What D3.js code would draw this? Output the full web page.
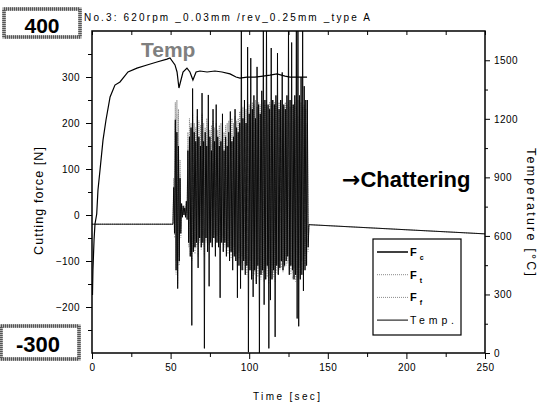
<!DOCTYPE html>
<html>
<head>
<meta charset="utf-8">
<script src="https://cdn.jsdelivr.net/npm/d3@7"></script>
<style>
  body { margin: 0; background: #fff; }
  svg { display: block; font-family: "Liberation Sans", Arial, sans-serif; }
</style>
</head>
<body>
<div class="svg-target"></div>
<script>
const w = 540;
const h = 403;
const plot = {left: 92, right: 485, top: 31, bottom: 353};

// axis ticks
const timeTicks = [0, 50, 100, 150, 200, 250];
const timeMinor = [25, 75, 125, 175, 225];
const forceTicks = [-200, -100, 0, 100, 200, 300];
const forceMinor = [-250, -150, -50, 50, 150, 250, 350];
const tempTicks = [0, 300, 600, 900, 1200, 1500];
const tempMinor = [150, 450, 750, 1050, 1350];

// force offset outside the chatter record
const baseTime = [0, 51.5, 138, 250];
const baseForce = [-20, -20, -21, -41];

// chatter record: one peak and one trough per second, from t = 52 s
const chatterStart = 52;
const fcHi = [60, 207, 180, 150, 80, 25, 20, 15, 30, 140,
    170, 190, 275, 180, 160, 230, 170, 150, 265, 160,
    180, 150, 261, 170, 140, 230, 160, 240, 170, 150,
    160, 220, 140, 170, 150, 180, 225, 160, 170, 230,
    190, 180, 200, 420, 210, 250, 200, 365, 220, 341,
    230, 260, 210, 322, 240, 220, 270, 420, 250, 420,
    240, 230, 363, 250, 240, 260, 352, 230, 250, 310,
    240, 230, 260, 420, 250, 375, 240, 260, 420, 420,
    260, 300, 420, 280, 250, 250];
const fcLo = [-40, -120, -160, -100, -40, -5, 0, -5, -10, -60,
    -90, -240, -80, -70, -60, -115, -50, -70, -60, -290,
    -50, -80, -155, -60, -70, -50, -90, -60, -70, -180,
    -60, -80, -60, -90, -70, -100, -80, -120, -90, -100,
    -180, -110, -160, -120, -100, -130, -110, -298, -120, -140,
    -178, -120, -150, -110, -300, -130, -120, -195, -140, -110,
    -290, -185, -140, -120, -265, -110, -130, -115, -100, -120,
    -110, -100, -90, -130, -110, -120, -140, -130, -225, -242,
    -140, -130, -165, -120, -110, -70];
const ftHi = [80, 245, 250, 230, 120, 20, 15, 20, 25, 180,
    210, 200, 220, 200, 190, 215, 205, 195, 220, 200,
    190, 210, 200, 185, 195, 205, 190, 200, 185, 195,
    200, 190, 180, 195, 200, 205, 195, 210, 200, 215,
    205, 210, 225, 230, 235, 240, 230, 245, 240, 235,
    245, 240, 250, 235, 245, 240, 250, 245, 240, 250,
    235, 245, 240, 250, 245, 240, 235, 245, 240, 250,
    235, 245, 240, 245, 235, 250, 240, 245, 235, 250,
    240, 245, 235, 240, 230, 200];
const ftLo = [-30, -100, -110, -90, -30, 5, 5, 0, 5, -50,
    -70, -80, -60, -70, -55, -65, -50, -60, -45, -70,
    -50, -55, -65, -45, -50, -40, -55, -45, -50, -60,
    -45, -50, -55, -60, -70, -65, -80, -75, -70, -85,
    -90, -80, -95, -90, -100, -95, -110, -120, -100, -115,
    -120, -110, -125, -115, -130, -120, -110, -125, -120, -115,
    -130, -120, -110, -115, -125, -105, -110, -100, -95, -105,
    -95, -90, -85, -100, -110, -120, -115, -125, -120, -115,
    -110, -100, -95, -90, -85, -60];
const ffHi = [50, 200, 220, 190, 90, 15, 10, 15, 20, 150,
    170, 160, 180, 170, 155, 175, 165, 160, 180, 165,
    155, 170, 160, 150, 160, 170, 155, 165, 150, 160,
    165, 155, 150, 160, 165, 170, 160, 175, 165, 180,
    170, 175, 190, 195, 200, 205, 195, 210, 205, 200,
    210, 205, 215, 200, 210, 205, 215, 210, 205, 215,
    200, 210, 205, 215, 210, 205, 200, 210, 205, 215,
    200, 210, 205, 210, 200, 215, 205, 210, 200, 215,
    205, 210, 200, 205, 195, 170];
const ffLo = [-50, -130, -150, -110, -50, -5, 0, -5, 0, -70,
    -90, -100, -75, -85, -70, -90, -60, -75, -65, -90,
    -60, -70, -80, -55, -65, -50, -70, -60, -65, -75,
    -55, -65, -70, -80, -85, -80, -95, -90, -85, -100,
    -110, -95, -115, -105, -120, -110, -130, -140, -120, -135,
    -140, -130, -145, -135, -150, -140, -130, -145, -140, -135,
    -150, -140, -130, -135, -145, -125, -130, -120, -115, -125,
    -115, -110, -105, -120, -130, -140, -135, -145, -140, -135,
    -130, -120, -115, -110, -105, -80];

// temperature
const tempTime = [0.3, 0.6, 1.3, 1.9, 3.0, 3.8, 5.1, 7.0, 8.9, 11.5,
    14.6, 17.8, 22.9, 28.6, 35.0, 41.3, 47.7, 49.6, 52.8, 54.1,
    55.3, 56.6, 57.9, 60.4, 62.3, 64.2, 66.2, 68.7, 73.2, 78.2,
    82.7, 87.8, 91.6, 94.1, 98.6, 103.7, 108.8, 113.2, 117.7, 122.8,
    126.0, 131.0, 136.8];
const tempValue = [297, 425, 579, 661, 712, 835, 938, 1091, 1194, 1312,
    1373, 1389, 1440, 1460, 1476, 1491, 1506, 1512, 1476, 1440,
    1358, 1399, 1440, 1460, 1440, 1399, 1440, 1445, 1440, 1445,
    1440, 1430, 1414, 1409, 1414, 1414, 1419, 1424, 1430, 1419,
    1414, 1414, 1414];

const legendItems = ['c', 't', 'f', 'Temp.'];

drawGraph = () => {
    const svg = d3.select('.svg-target')
        .append('svg')
        .attr('width', w)
        .attr('height', h);

    const x = d3.scaleLinear().domain([0, 250]).range([plot.left, plot.right]);
    const yF = d3.scaleLinear().domain([-300, 400]).range([plot.bottom, plot.top]);
    const yT = d3.scaleLinear().domain([0, 1650]).range([plot.bottom, plot.top]);

    svg.append('clipPath').attr('id', 'clip')
        .append('rect')
        .attr('x', plot.left).attr('y', plot.top)
        .attr('width', plot.right - plot.left)
        .attr('height', plot.bottom - plot.top);

    // force traces
    const chatter = (hi, lo) => {
        const pts = [[baseTime[0], baseForce[0]], [baseTime[1], baseForce[1]]];
        hi.forEach((v, i) => {
            pts.push([chatterStart + i, v]);
            pts.push([chatterStart + i + 0.5, lo[i]]);
        });
        pts.push([baseTime[2], baseForce[2]], [baseTime[3], baseForce[3]]);
        return pts;
    };
    const forceLine = d3.line().x(d => x(d[0])).y(d => yF(d[1]));
    const traces = svg.append('g').attr('clip-path', 'url(#clip)');

    // grey F_t and F_f under the black F_c
    traces.append('path')
        .attr('d', forceLine(chatter(ftHi, ftLo)))
        .attr('fill', 'none').attr('stroke', '#8a8a8a').attr('stroke-width', 1)
        .attr('stroke-dasharray', '1,1');
    traces.append('path')
        .attr('d', forceLine(chatter(ffHi, ffLo)))
        .attr('fill', 'none').attr('stroke', '#a5a5a5').attr('stroke-width', 1)
        .attr('stroke-dasharray', '1,1.5');
    traces.append('path')
        .attr('d', forceLine(chatter(fcHi, fcLo)))
        .attr('fill', 'none').attr('stroke', '#000').attr('stroke-width', 0.9);

    // temperature
    const tempLine = d3.line().x((d, i) => x(tempTime[i])).y(d => yT(d));
    traces.append('path')
        .attr('d', tempLine(tempValue))
        .attr('fill', 'none').attr('stroke', '#000').attr('stroke-width', 1.2);

    // axes
    const styleAxis = g => {
        g.select('.domain').remove();
        g.selectAll('line').attr('stroke', '#000');
        g.selectAll('text')
            .attr('font-family', '"Liberation Sans", Arial, sans-serif')
            .attr('font-size', 10)
            .attr('letter-spacing', 0.4)
            .attr('fill', '#000');
    };
    const fmt = d3.format('d');

    svg.append('g')
        .attr('transform', `translate(0, ${plot.bottom})`)
        .call(d3.axisBottom(x).tickValues(timeTicks).tickFormat(fmt).tickSize(6).tickPadding(5).tickSizeOuter(0))
        .call(styleAxis);
    svg.append('g')
        .attr('transform', `translate(0, ${plot.bottom})`)
        .call(d3.axisBottom(x).tickValues(timeMinor).tickSize(4).tickFormat('').tickSizeOuter(0))
        .call(styleAxis);
    svg.append('g')
        .attr('transform', `translate(0, ${plot.top})`)
        .call(d3.axisBottom(x).tickValues(timeTicks.concat(timeMinor)).tickSize(4).tickFormat('').tickSizeOuter(0))
        .call(styleAxis);

    svg.append('g')
        .attr('transform', `translate(${plot.left}, 0)`)
        .call(d3.axisLeft(yF).tickValues(forceTicks).tickFormat(fmt).tickSize(6).tickPadding(6).tickSizeOuter(0))
        .call(styleAxis);
    svg.append('g')
        .attr('transform', `translate(${plot.left}, 0)`)
        .call(d3.axisLeft(yF).tickValues(forceMinor).tickSize(4).tickFormat('').tickSizeOuter(0))
        .call(styleAxis);

    svg.append('g')
        .attr('transform', `translate(${plot.right}, 0)`)
        .call(d3.axisRight(yT).tickValues(tempTicks).tickFormat(fmt).tickSize(5).tickPadding(4).tickSizeOuter(0))
        .call(styleAxis);
    svg.append('g')
        .attr('transform', `translate(${plot.right}, 0)`)
        .call(d3.axisRight(yT).tickValues(tempMinor).tickSize(3).tickFormat('').tickSizeOuter(0))
        .call(styleAxis);

    // frame
    svg.append('rect')
        .attr('x', plot.left).attr('y', plot.top)
        .attr('width', plot.right - plot.left)
        .attr('height', plot.bottom - plot.top)
        .attr('fill', 'none').attr('stroke', '#000').attr('stroke-width', 1.5);

    // titles
    svg.append('text')
        .attr('x', 84).attr('y', 20.5)
        .attr('font-size', 10)
        .attr('textLength', 286).attr('lengthAdjust', 'spacing')
        .text('No.3: 620rpm _0.03mm /rev_0.25mm _type A');
    svg.append('text')
        .attr('x', 253).attr('y', 400)
        .attr('font-size', 10)
        .attr('textLength', 67).attr('lengthAdjust', 'spacing')
        .text('Time [sec]');
    svg.append('text')
        .attr('transform', 'translate(43, 201) rotate(-90)')
        .attr('text-anchor', 'middle')
        .attr('font-size', 12.5)
        .attr('textLength', 108).attr('lengthAdjust', 'spacing')
        .text('Cutting force [N]');
    svg.append('text')
        .attr('transform', 'translate(527, 212) rotate(90)')
        .attr('text-anchor', 'middle')
        .attr('font-size', 12.5)
        .attr('textLength', 128).attr('lengthAdjust', 'spacing')
        .text('Temperature [°C]');

    // annotations
    svg.append('text')
        .attr('x', 141).attr('y', 57)
        .attr('font-size', 21).attr('font-weight', 'bold')
        .attr('fill', '#7f7f7f')
        .text('Temp');
    const chat = svg.append('text')
        .attr('x', 342).attr('y', 187)
        .attr('font-size', 22).attr('font-weight', 'bold');
    chat.append('tspan')
        .attr('font-family', '"DejaVu Sans", sans-serif')
        .text('→');
    chat.append('tspan').text('Chattering');

    const endBox = (bx, by, bw, bh, label, tx, ty, fs) => {
        svg.append('rect')
            .attr('x', bx).attr('y', by).attr('width', bw).attr('height', bh)
            .attr('fill', '#fff').attr('stroke', '#b0b0b0').attr('stroke-width', 3.5);
        svg.append('rect')
            .attr('x', bx).attr('y', by).attr('width', bw).attr('height', bh)
            .attr('fill', 'none').attr('stroke', '#555').attr('stroke-width', 3.5)
            .attr('stroke-dasharray', '1,1');
        svg.append('text')
            .attr('x', tx).attr('y', ty)
            .attr('text-anchor', 'middle')
            .attr('font-size', fs).attr('font-weight', 'bold')
            .text(label);
    };
    endBox(4, 9, 76, 28, '400', 42, 33, 21);
    endBox(1, 326, 78, 33, '-300', 38, 351.5, 22);

    // legend
    const lg = svg.append('g');
    lg.append('rect')
        .attr('x', 373).attr('y', 239).attr('width', 88).attr('height', 96)
        .attr('fill', '#fff').attr('stroke', '#000').attr('stroke-width', 1.2);
    const legendStyle = [
        {stroke: '#000', width: 1.5, dash: null},
        {stroke: '#8a8a8a', width: 1, dash: '1,1'},
        {stroke: '#8a8a8a', width: 1, dash: '1,1'},
        {stroke: '#000', width: 1, dash: null}
    ];
    legendItems.forEach((item, i) => {
        const ly = 252 + i * 22.7;
        lg.append('line')
            .attr('x1', 377).attr('x2', 408).attr('y1', ly).attr('y2', ly)
            .attr('stroke', legendStyle[i].stroke)
            .attr('stroke-width', legendStyle[i].width)
            .attr('stroke-dasharray', legendStyle[i].dash);
        if (i < 3) {
            const t = lg.append('text').attr('x', 410).attr('y', ly + 4)
                .attr('font-size', 11).attr('font-weight', 'bold');
            t.append('tspan').text('F');
            t.append('tspan').attr('dx', 3).attr('dy', 4)
                .attr('font-size', 7).attr('font-weight', 'bold').text(item);
        } else {
            lg.append('text').attr('x', 410).attr('y', ly + 4)
                .attr('font-size', 10.5)
                .attr('textLength', 44).attr('lengthAdjust', 'spacing')
                .text(item);
        }
    });
};

drawGraph();
</script>
</body>
</html>
